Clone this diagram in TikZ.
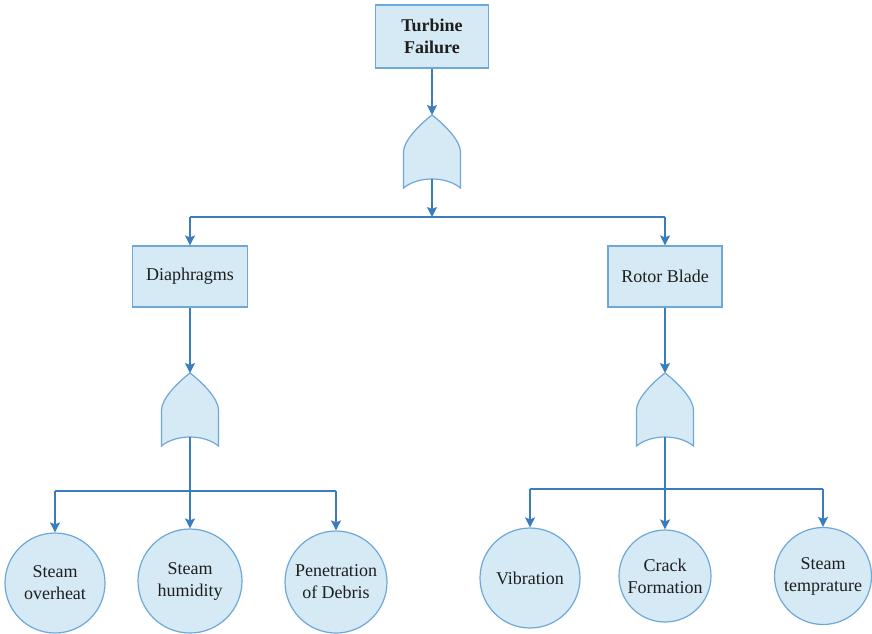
\documentclass[tikz,border=0pt]{standalone}
\usepackage{fontspec}
\setmainfont{Liberation Serif}
\usetikzlibrary{arrows.meta}
\definecolor{fillblue}{RGB}{214,234,246}
\definecolor{edgeblue}{RGB}{110,168,214}
\definecolor{arrowblue}{RGB}{58,125,190}
\definecolor{txt}{RGB}{30,30,30}
\tikzset{
  box/.style={draw=edgeblue, fill=fillblue, line width=1.2pt, inner sep=0pt, text=txt,
    font=\fontsize{18}{22}\selectfont, align=center},
  event/.style={circle, draw=edgeblue, fill=fillblue, line width=1.2pt, inner sep=0pt, text=txt,
    font=\fontsize{18}{22}\selectfont, align=center},
  conn/.style={draw=arrowblue, line width=1.3pt},
  arr/.style={conn, -{Stealth[length=10pt,width=10pt,inset=2pt]}},
  gateshape/.style={draw=edgeblue, fill=fillblue, line width=1.2pt},
  pics/orgate/.style={code={
    \path[gateshape] (-28.5,73) -- (-28.5,37)
       .. controls (-28.5,26) and (-13,10) .. (0,0)
       .. controls (13,10) and (28.5,26) .. (28.5,37)
       -- (28.5,73)
       .. controls (14,61) and (-14,61) .. cycle;
    \coordinate (-top) at (0,0);
    \coordinate (-bot) at (0,64);
  }}
}
\begin{document}
\begin{tikzpicture}[x=1pt,y=-1pt]
\clip (0,0) rectangle (872,633);
\fill[white] (0,0) rectangle (872,633);
% top event
\node[box, minimum width=113pt, minimum height=63pt] (top) at (432,36.5) {\textbf{Turbine}\\\textbf{Failure}};
\pic (g1) at (432,115) {orgate};
\coordinate (h1) at (432,217);
% intermediate events
\node[box, minimum width=115pt, minimum height=61pt] (dia) at (190,276.5) {Diaphragms};
\node[box, minimum width=114pt, minimum height=61pt] (rot) at (665,276.5) {Rotor Blade};
\pic (g2) at (190,373) {orgate};
\pic (g3) at (665,373) {orgate};
\coordinate (h2) at (190,491);
\coordinate (h3) at (665,489);
% basic events
\node[event, minimum size=100pt] (c1) at (55,583) {Steam\\overheat};
\node[event, minimum size=104pt] (c2) at (190,581) {Steam\\humidity};
\node[event, minimum size=102pt] (c3) at (336,582) {Penetration\\of Debris};
\node[event, minimum size=100pt] (c4) at (530,578) {Vibration};
\node[event, minimum size=92pt] (c5) at (665,576) {Crack\\Formation};
\node[event, minimum size=97pt] (c6) at (823,576) {Steam\\temprature};
% connectors top
\draw[arr] (top) -- (g1-top);
\draw[arr] (g1-bot) -- (h1);
\draw[conn] (h1 -| dia) -- (h1 -| rot);
\draw[arr] (h1 -| dia) -- (dia);
\draw[arr] (h1 -| rot) -- (rot);
% left branch
\draw[arr] (dia) -- (g2-top);
\draw[conn] (h2 -| c1) -- (h2 -| c3);
\draw[arr] (g2-bot) -- (c2);
\draw[arr] (h2 -| c1) -- (c1);
\draw[arr] (h2 -| c3) -- (c3);
% right branch
\draw[arr] (rot) -- (g3-top);
\draw[conn] (h3 -| c4) -- (h3 -| c6);
\draw[arr] (g3-bot) -- (c5);
\draw[arr] (h3 -| c4) -- (c4);
\draw[arr] (h3 -| c6) -- (c6);
\end{tikzpicture}
\end{document}
